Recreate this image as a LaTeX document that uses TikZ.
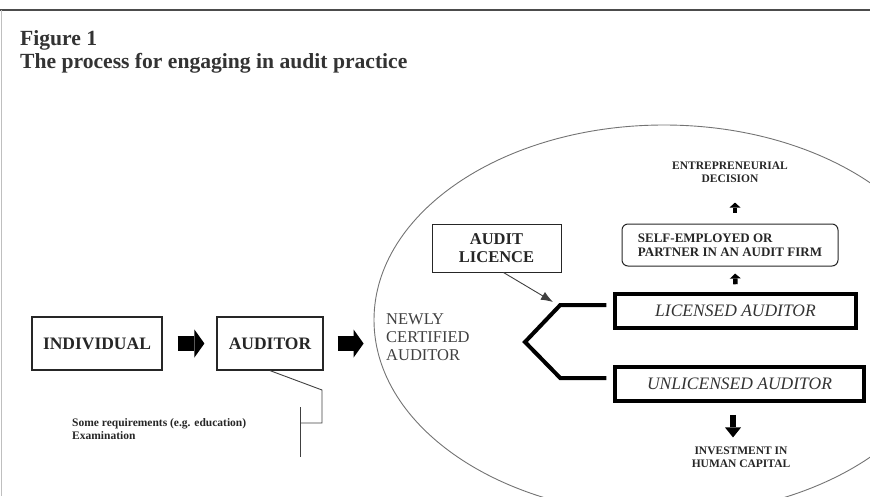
\documentclass[tikz,border=0pt]{standalone}
\usepackage{fontspec}
\setmainfont{Liberation Serif}
\usetikzlibrary{arrows.meta, positioning, calc}

\tikzset{
  figtitle/.style={inner sep=0pt, text=black!80, font=\bfseries\fontsize{21.6}{24}\selectfont},
  box/.style={draw=black!85, line width=1.2pt, minimum height=53pt, inner sep=0pt, text=black!85, font=\bfseries\fontsize{17.5}{19}\selectfont},
  smallbox/.style={draw=black!85, line width=1pt, inner sep=0pt, align=center, text=black!85, font=\bfseries\fontsize{16.5}{18}\selectfont},
  thickbox/.style={draw=black, line width=3.5pt, minimum height=34pt, inner sep=0pt, text=black!80, font=\itshape\fontsize{17.5}{19}\selectfont},
  note/.style={inner sep=0pt, align=center, text=black!85, font=\bfseries\fontsize{11.5}{13}\selectfont},
  plain/.style={inner sep=0pt, align=left, text=black!75, font=\fontsize{16.5}{18}\selectfont},
  bigarrow/.style={line width=15pt, black, -{Triangle[length=10pt, width=28pt, line width=0pt]}},
  uparrow/.style={line width=4.5pt, black, -{Triangle[length=5pt, width=11pt, line width=0pt]}},
  downarrow/.style={line width=6pt, black, -{Triangle[length=10pt, width=16pt, line width=0pt]}},
  leader/.style={draw=black!75, line width=0.9pt},
  fork/.style={line width=4pt, line join=miter}
}

\begin{document}
\begin{tikzpicture}[x=1pt, y=-1pt]
    \useasboundingbox (0,0) rectangle (870,496);
    \draw[black!70, line width=1.5pt] (0,10) -- (870,10);
    \draw[black!25, line width=0.8pt] (1,10) -- (1,496);

    \node[figtitle, anchor=base west] (figno) at (20,45) {Figure 1};
    \node[figtitle, anchor=base west] (figcap) at (20,68) {The process for engaging in audit practice};

    \begin{scope}
        \clip (0,0) rectangle (870,496);
        \draw[black!55, line width=0.9pt] (664,320) ellipse [x radius=290, y radius=195];
    \end{scope}

    \node[box, minimum width=130pt] (indiv) at (97,343.5) {INDIVIDUAL};
    \node[box, minimum width=106pt] (auditor) at (270,343.5) {AUDITOR};
    \node[plain, anchor=west] (newly) at (386,337.5) {NEWLY\\CERTIFIED\\AUDITOR};
    \node[note, anchor=west, align=left] (reqs) at (72,429) {Some requirements (e.g. education)\\Examination};

    \node[smallbox, minimum width=129pt, minimum height=48pt] (licence) at (496.5,248) {AUDIT\\LICENCE};
    \node[smallbox, rounded corners=6pt, minimum width=216pt, minimum height=42pt, align=left, font=\bfseries\fontsize{13}{14}\selectfont] (selfemp) at (730,245) {SELF-EMPLOYED OR\\PARTNER IN AN AUDIT FIRM};
    \node[note] (entre) at (730,172) {ENTREPRENEURIAL\\DECISION};
    \node[thickbox, minimum width=241pt] (lic) at (735.5,311) {LICENSED AUDITOR};
    \node[thickbox, minimum width=249pt] (unlic) at (739.5,384) {UNLICENSED AUDITOR};
    \node[note] (invest) at (741,457) {INVESTMENT IN\\HUMAN CAPITAL};

    \coordinate (bend) at (322,390);
    \coordinate (tee) at (300,423);
    \coordinate (fork) at (525,342);
    \coordinate (licin) at (553,302);

    \draw[bigarrow] ([xshift=15pt]indiv.east) -- ([xshift=-12pt]auditor.west);
    \draw[bigarrow] ([xshift=14pt]auditor.east) -- ([xshift=40pt]auditor.east);

    \draw[leader] (auditor.south) -- (bend) -- (bend |- tee) -- (tee);
    \draw[leader] ([yshift=16pt]tee) -- ([yshift=-34pt]tee);

    \draw[leader, -{Latex[length=12pt, width=9pt]}] ([xshift=7pt]licence.south) -- (licin);
    \draw[fork] ([xshift=-7pt,yshift=6pt]lic.west) -- ++(-46,0) -- (fork) -- ([xshift=-53pt,yshift=6pt]unlic.west) -- ([xshift=-7pt,yshift=6pt]unlic.west);

    \draw[uparrow] ([yshift=8pt]lic.north) -- ([xshift=5pt,yshift=-7pt]selfemp.south);
    \draw[uparrow] ([xshift=5pt,yshift=11pt]selfemp.north) -- ([xshift=5pt,yshift=-20pt]entre.south);
    \draw[downarrow] ([xshift=-6.5pt,yshift=-12pt]unlic.south) -- ([xshift=-8pt,yshift=9pt]invest.north);
\end{tikzpicture}
\end{document}
